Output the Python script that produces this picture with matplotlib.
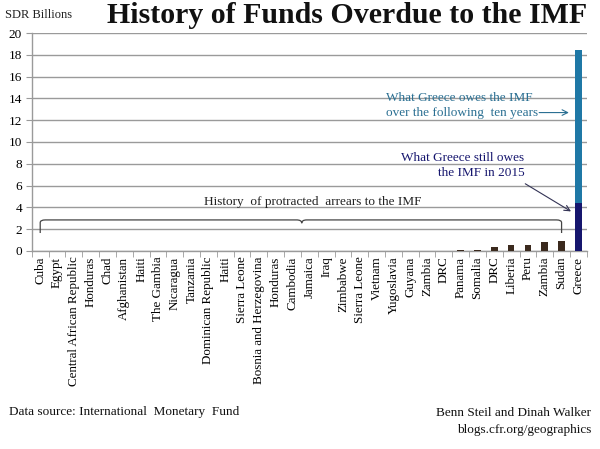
import matplotlib
matplotlib.use("Agg")
import matplotlib.pyplot as plt
from matplotlib.path import Path
from matplotlib.patches import PathPatch
import numpy as np

plt.rcParams['font.family'] = ['Liberation Serif', 'DejaVu Serif']

countries = ["Cuba", "Egypt", "Central African Republic", "Honduras", "Chad",
             "Afghanistan", "Haiti", "The Gambia", "Nicaragua", "Tanzania",
             "Dominican Republic", "Haiti", "Sierra Leone", "Bosnia and Herzegovina",
             "Honduras", "Cambodia", "Jamaica", "Iraq", "Zimbabwe", "Sierra Leone",
             "Vietnam", "Yugoslavia", "Guyana", "Zambia", "DRC", "Panama", "Somalia",
             "DRC", "Liberia", "Peru", "Zambia", "Sudan", "Greece"]
arrears = [0.0, 0.0, 0.03, 0.03, 0.03, 0.03, 0.03, 0.03, 0.03, 0.03,
           0.03, 0.03, 0.03, 0.03, 0.03, 0.03, 0.03, 0.03, 0.03, 0.03,
           0.03, 0.03, 0.03, 0.03, 0.03, 0.1, 0.1, 0.35, 0.55, 0.53,
           0.82, 0.92, 0.0]
greece_2015 = 4.4
greece_next10 = 14.0

BROWN = "#3b2a1e"
NAVY = "#16166e"
TEAL = "#1f78a6"
TEALTXT = "#2a6f92"
GRID = "#9a9a9a"

fig = plt.figure(figsize=(6.0, 4.49), dpi=100)
ax = fig.add_axes([0.053, 0.441, 0.925, 0.4855])

x = np.arange(len(countries))
gi = len(countries) - 1
ax.bar(x[:gi], arrears[:gi], width=0.4, color=BROWN, zorder=3)
ax.bar([gi], [greece_2015], width=0.4, color=NAVY, zorder=3)
ax.bar([gi], [greece_next10], bottom=[greece_2015], width=0.4, color=TEAL, zorder=3)

ax.set_xlim(-0.5, len(countries) - 0.5)
ax.set_ylim(0, 20)
ax.set_yticks(np.arange(0, 21, 2))
ax.yaxis.grid(True, color=GRID, linewidth=1.0, zorder=0)
ax.set_axisbelow(True)

ax.set_xticks(x)
ax.set_xticklabels(countries, rotation=90, fontsize=9.4)
ax.tick_params(axis='x', which='major', length=0, pad=4)
ax.set_xticks(np.arange(-0.5, len(countries), 1.0), minor=True)
ax.tick_params(axis='x', which='minor', length=4, color=GRID, direction='out')
ax.tick_params(axis='y', length=4, color=GRID, labelsize=9.5, pad=3)

for s in ['top', 'right']:
    ax.spines[s].set_visible(False)
for s in ['left', 'bottom']:
    ax.spines[s].set_color(GRID)
    ax.spines[s].set_linewidth(1.0)

# brace over the arrears countries
x0, x1 = 0, gi - 1
xm = 15.55
yb, ybot, r = 2.85, 1.65, 0.3
verts = [(x0, ybot), (x0, yb - 0.25), (x0, yb), (x0 + r, yb),
         (xm - r, yb), (xm, yb), (xm, yb - 0.3),
         (xm, yb), (xm + r, yb),
         (x1 - r, yb), (x1, yb), (x1, yb - 0.25), (x1, ybot)]
codes = [Path.MOVETO, Path.LINETO, Path.CURVE3, Path.CURVE3,
         Path.LINETO, Path.CURVE3, Path.CURVE3,
         Path.CURVE3, Path.CURVE3,
         Path.LINETO, Path.CURVE3, Path.CURVE3, Path.LINETO]
ax.add_patch(PathPatch(Path(verts, codes), facecolor='none', edgecolor='#444444',
                       linewidth=0.9, zorder=4))
ax.text(16.2, 4.45, "History  of protracted  arrears to the IMF", ha='center',
        va='center', fontsize=9.5, color='#222222', zorder=5)

# annotations for Greece
ax.text(20.57, 14.0, "What Greece owes the IMF", ha='left', va='center',
        fontsize=9.5, color=TEALTXT)
ax.text(20.57, 12.7, "over the following  ten years", ha='left', va='center',
        fontsize=9.5, color=TEALTXT)
ax.annotate("", xy=(31.6, 12.7), xytext=(29.5, 12.7),
            arrowprops=dict(arrowstyle='->', color=TEALTXT, lw=0.8))

ax.text(28.8, 8.55, "What Greece still owes", ha='right', va='center',
        fontsize=9.5, color=NAVY)
ax.text(28.8, 7.2, "the IMF in 2015", ha='right', va='center',
        fontsize=9.5, color=NAVY)
ax.annotate("", xy=(31.7, 3.5), xytext=(28.7, 6.3),
            arrowprops=dict(arrowstyle='->', color='#333355', lw=0.8))

fig.text(0.578, 0.965, "History of Funds Overdue to the IMF", ha='center', va='center',
         fontsize=21.5, fontweight='bold', color='#111111')
fig.text(0.008, 0.966, "SDR Billions", ha='left', va='center', fontsize=9,
         color='#222222')

fig.text(0.015, 0.082, "Data source: International  Monetary  Fund", ha='left',
         va='center', fontsize=9.5, color='#111111')
fig.text(0.985, 0.080, "Benn Steil and Dinah Walker", ha='right', va='center',
         fontsize=9.5, color='#111111')
fig.text(0.985, 0.043, "blogs.cfr.org/geographics", ha='right', va='center',
         fontsize=9.5, color='#111111')

fig.savefig("out.png", dpi=100, facecolor='white')
